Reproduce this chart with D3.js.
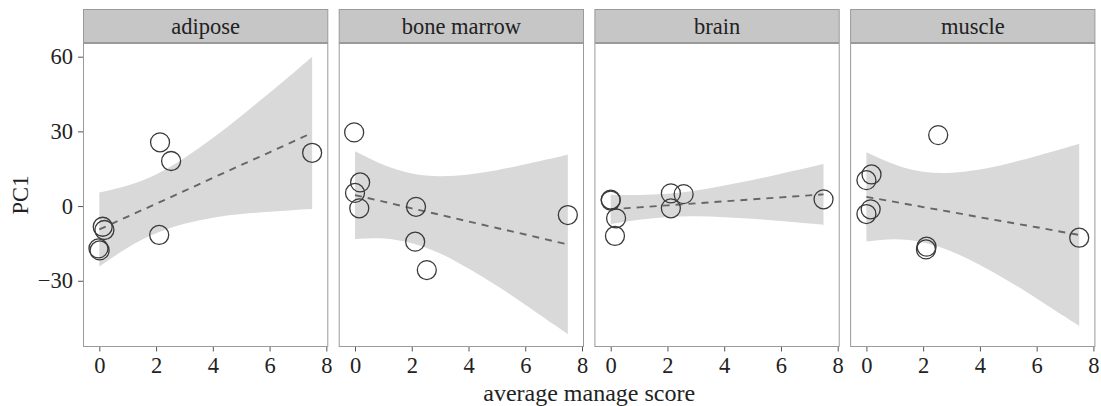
<!DOCTYPE html>
<html>
<head>
<meta charset="utf-8">
<script src="https://cdn.jsdelivr.net/npm/d3@7"></script>
<style>
  html, body { margin: 0; padding: 0; background: #fff; }
  svg { display: block; }
  text { font-family: "Liberation Serif", "DejaVu Serif", serif; fill: #222; }
</style>
</head>
<body>
<svg id="chart" width="1101" height="406"></svg>
<script>
// ---- data ----
const tissues = ["adipose", "bone marrow", "brain", "muscle"];
const xTicks = [0, 2, 4, 6, 8];
const yTicks = [-30, 0, 30, 60];

// observed points (x = average manage score, y = PC1)
const adiposeX = [2.14, 2.53, 7.5, 2.11, 0.12, 0.18, -0.03, 0.01];
const adiposeY = [25.6, 18.1, 21.4, -11.6, -8.3, -9.6, -17.0, -17.8];
const boneX = [-0.03, 0.18, 0.0, 0.15, 2.15, 2.12, 2.53, 7.5];
const boneY = [29.6, 9.5, 5.3, -0.9, -0.3, -14.3, -25.7, -3.6];
const brainX = [0.0, 0.0, 0.19, 0.15, 2.12, 2.57, 2.12, 7.5];
const brainY = [2.6, 2.2, -4.9, -12.0, 5.1, 4.8, -0.9, 2.7];
const muscleX = [0.0, 0.18, 0.0, 0.15, 2.12, 2.1, 2.53, 7.5];
const muscleY = [10.4, 12.7, -3.2, -1.3, -16.3, -17.4, 28.5, -12.7];

// fitted line and confidence band read at these x positions
const fitX = [0, 1, 2, 3, 4, 5, 6, 7, 7.5];
const adiposeFit = [-9.4, -4.2, 0.9, 6.1, 11.3, 16.5, 21.6, 26.8, 29.4];
const adiposeUpper = [5.5, 8.3, 12.7, 19.3, 27.3, 36.2, 45.5, 55.1, 60.0];
const adiposeLower = [-24.3, -16.7, -10.9, -7.1, -4.7, -3.2, -2.3, -1.5, -1.2];
const boneFit = [4.4, 1.8, -0.9, -3.5, -6.2, -8.8, -11.4, -14.1, -15.4];
const boneUpper = [22.0, 16.6, 13.1, 12.0, 12.7, 14.4, 16.8, 19.3, 20.7];
const boneLower = [-13.2, -13.0, -14.9, -19.0, -25.1, -32.0, -39.6, -47.5, -51.5];
const brainFit = [-1.3, -0.5, 0.3, 1.1, 1.9, 2.7, 3.5, 4.3, 4.7];
const brainUpper = [4.6, 4.5, 5.0, 6.3, 8.3, 10.5, 13.0, 15.6, 16.9];
const brainLower = [-7.2, -5.5, -4.4, -4.1, -4.5, -5.1, -6.0, -7.0, -7.5];
const muscleFit = [3.7, 1.7, -0.4, -2.4, -4.5, -6.5, -8.5, -10.6, -11.6];
const muscleUpper = [21.6, 16.7, 13.8, 13.4, 14.7, 17.1, 20.1, 23.3, 25.0];
const muscleLower = [-14.2, -13.3, -14.6, -18.2, -23.7, -30.1, -37.1, -44.5, -48.2];

const panels = [
  { name: tissues[0], px: adiposeX, py: adiposeY, fit: adiposeFit, up: adiposeUpper, lo: adiposeLower },
  { name: tissues[1], px: boneX, py: boneY, fit: boneFit, up: boneUpper, lo: boneLower },
  { name: tissues[2], px: brainX, py: brainY, fit: brainFit, up: brainUpper, lo: brainLower },
  { name: tissues[3], px: muscleX, py: muscleY, fit: muscleFit, up: muscleUpper, lo: muscleLower }
];

// ---- layout ----
const svg = d3.select("#chart");
const left = 83, panelW = 245.3, gap = 10.4;
const stripTop = 9, plotTop = 43, plotBottom = 347;

const x = d3.scaleLinear().domain([-0.575, 8.07]).range([0, panelW]);
const y = d3.scaleLinear().domain([-56.6, 65.5]).range([plotBottom, plotTop]);

const border = "#9a9a9a";

panels.forEach((p, i) => {
  const g = svg.append("g").attr("transform", `translate(${left + i * (panelW + gap)},0)`);

  // strip
  g.append("rect").attr("x", 0.5).attr("y", stripTop + 0.5)
    .attr("width", panelW - 1).attr("height", plotTop - stripTop - 1)
    .attr("fill", "#c6c6c6").attr("stroke", border).attr("stroke-width", 1);
  g.append("text").attr("x", panelW / 2).attr("y", 34)
    .attr("text-anchor", "middle").attr("font-size", 22.5).text(p.name);

  // plot background
  g.append("rect").attr("x", 0.5).attr("y", plotTop + 0.5)
    .attr("width", panelW - 1).attr("height", plotBottom - plotTop - 1)
    .attr("fill", "#fff");

  const fitRows = fitX.map((fx, k) => ({ x: fx, f: p.fit[k], u: p.up[k], l: p.lo[k] }));

  // confidence band
  g.append("path").datum(fitRows)
    .attr("d", d3.area().x(d => x(d.x)).y0(d => y(d.l)).y1(d => y(d.u)).curve(d3.curveNatural))
    .attr("fill", "#d9d9d9").attr("stroke", "none");

  // fitted line
  g.append("path").datum(fitRows)
    .attr("d", d3.line().x(d => x(d.x)).y(d => y(d.f)))
    .attr("fill", "none").attr("stroke", "#666").attr("stroke-width", 1.9)
    .attr("stroke-dasharray", "7,6");

  // points
  g.selectAll("circle.pt").data(p.px.map((v, k) => ({ x: v, y: p.py[k] })))
    .enter().append("circle").attr("class", "pt")
    .attr("cx", d => x(d.x)).attr("cy", d => y(d.y)).attr("r", 9.5)
    .attr("fill", "none").attr("stroke", "#3a3a3a").attr("stroke-width", 1.3);

  // panel border
  g.append("rect").attr("x", 0.5).attr("y", plotTop + 0.5)
    .attr("width", panelW - 1).attr("height", plotBottom - plotTop - 1)
    .attr("fill", "none").attr("stroke", border).attr("stroke-width", 1);

  // x axis
  const xa = g.append("g").attr("transform", `translate(0,${plotBottom})`)
    .call(d3.axisBottom(x).tickValues(xTicks).tickSize(4.5).tickPadding(6).tickFormat(d3.format("d")));
  xa.select(".domain").remove();
  xa.selectAll(".tick line").attr("stroke", "#555");
  xa.selectAll(".tick text").attr("font-size", 22.5).attr("font-family", "Liberation Serif").attr("fill", "#222");

  // y axis on first panel only
  if (i === 0) {
    const ya = g.append("g")
      .call(d3.axisLeft(y).tickValues(yTicks).tickSize(5).tickPadding(5)
        .tickFormat(d => d < 0 ? "\u2212" + Math.abs(d) : String(d)));
    ya.select(".domain").remove();
    ya.selectAll(".tick line").attr("stroke", "#555");
    ya.selectAll(".tick text").attr("font-size", 22.5).attr("font-family", "Liberation Serif").attr("fill", "#222");
  }
});

// axis titles
svg.append("text").attr("x", left + (4 * panelW + 3 * gap) / 2).attr("y", 400.5)
  .attr("text-anchor", "middle").attr("font-size", 24).text("average manage score");
svg.append("text").attr("transform", `translate(27.5,${(plotTop + plotBottom) / 2}) rotate(-90)`)
  .attr("text-anchor", "middle").attr("font-size", 22.5).text("PC1");
</script>
</body>
</html>
